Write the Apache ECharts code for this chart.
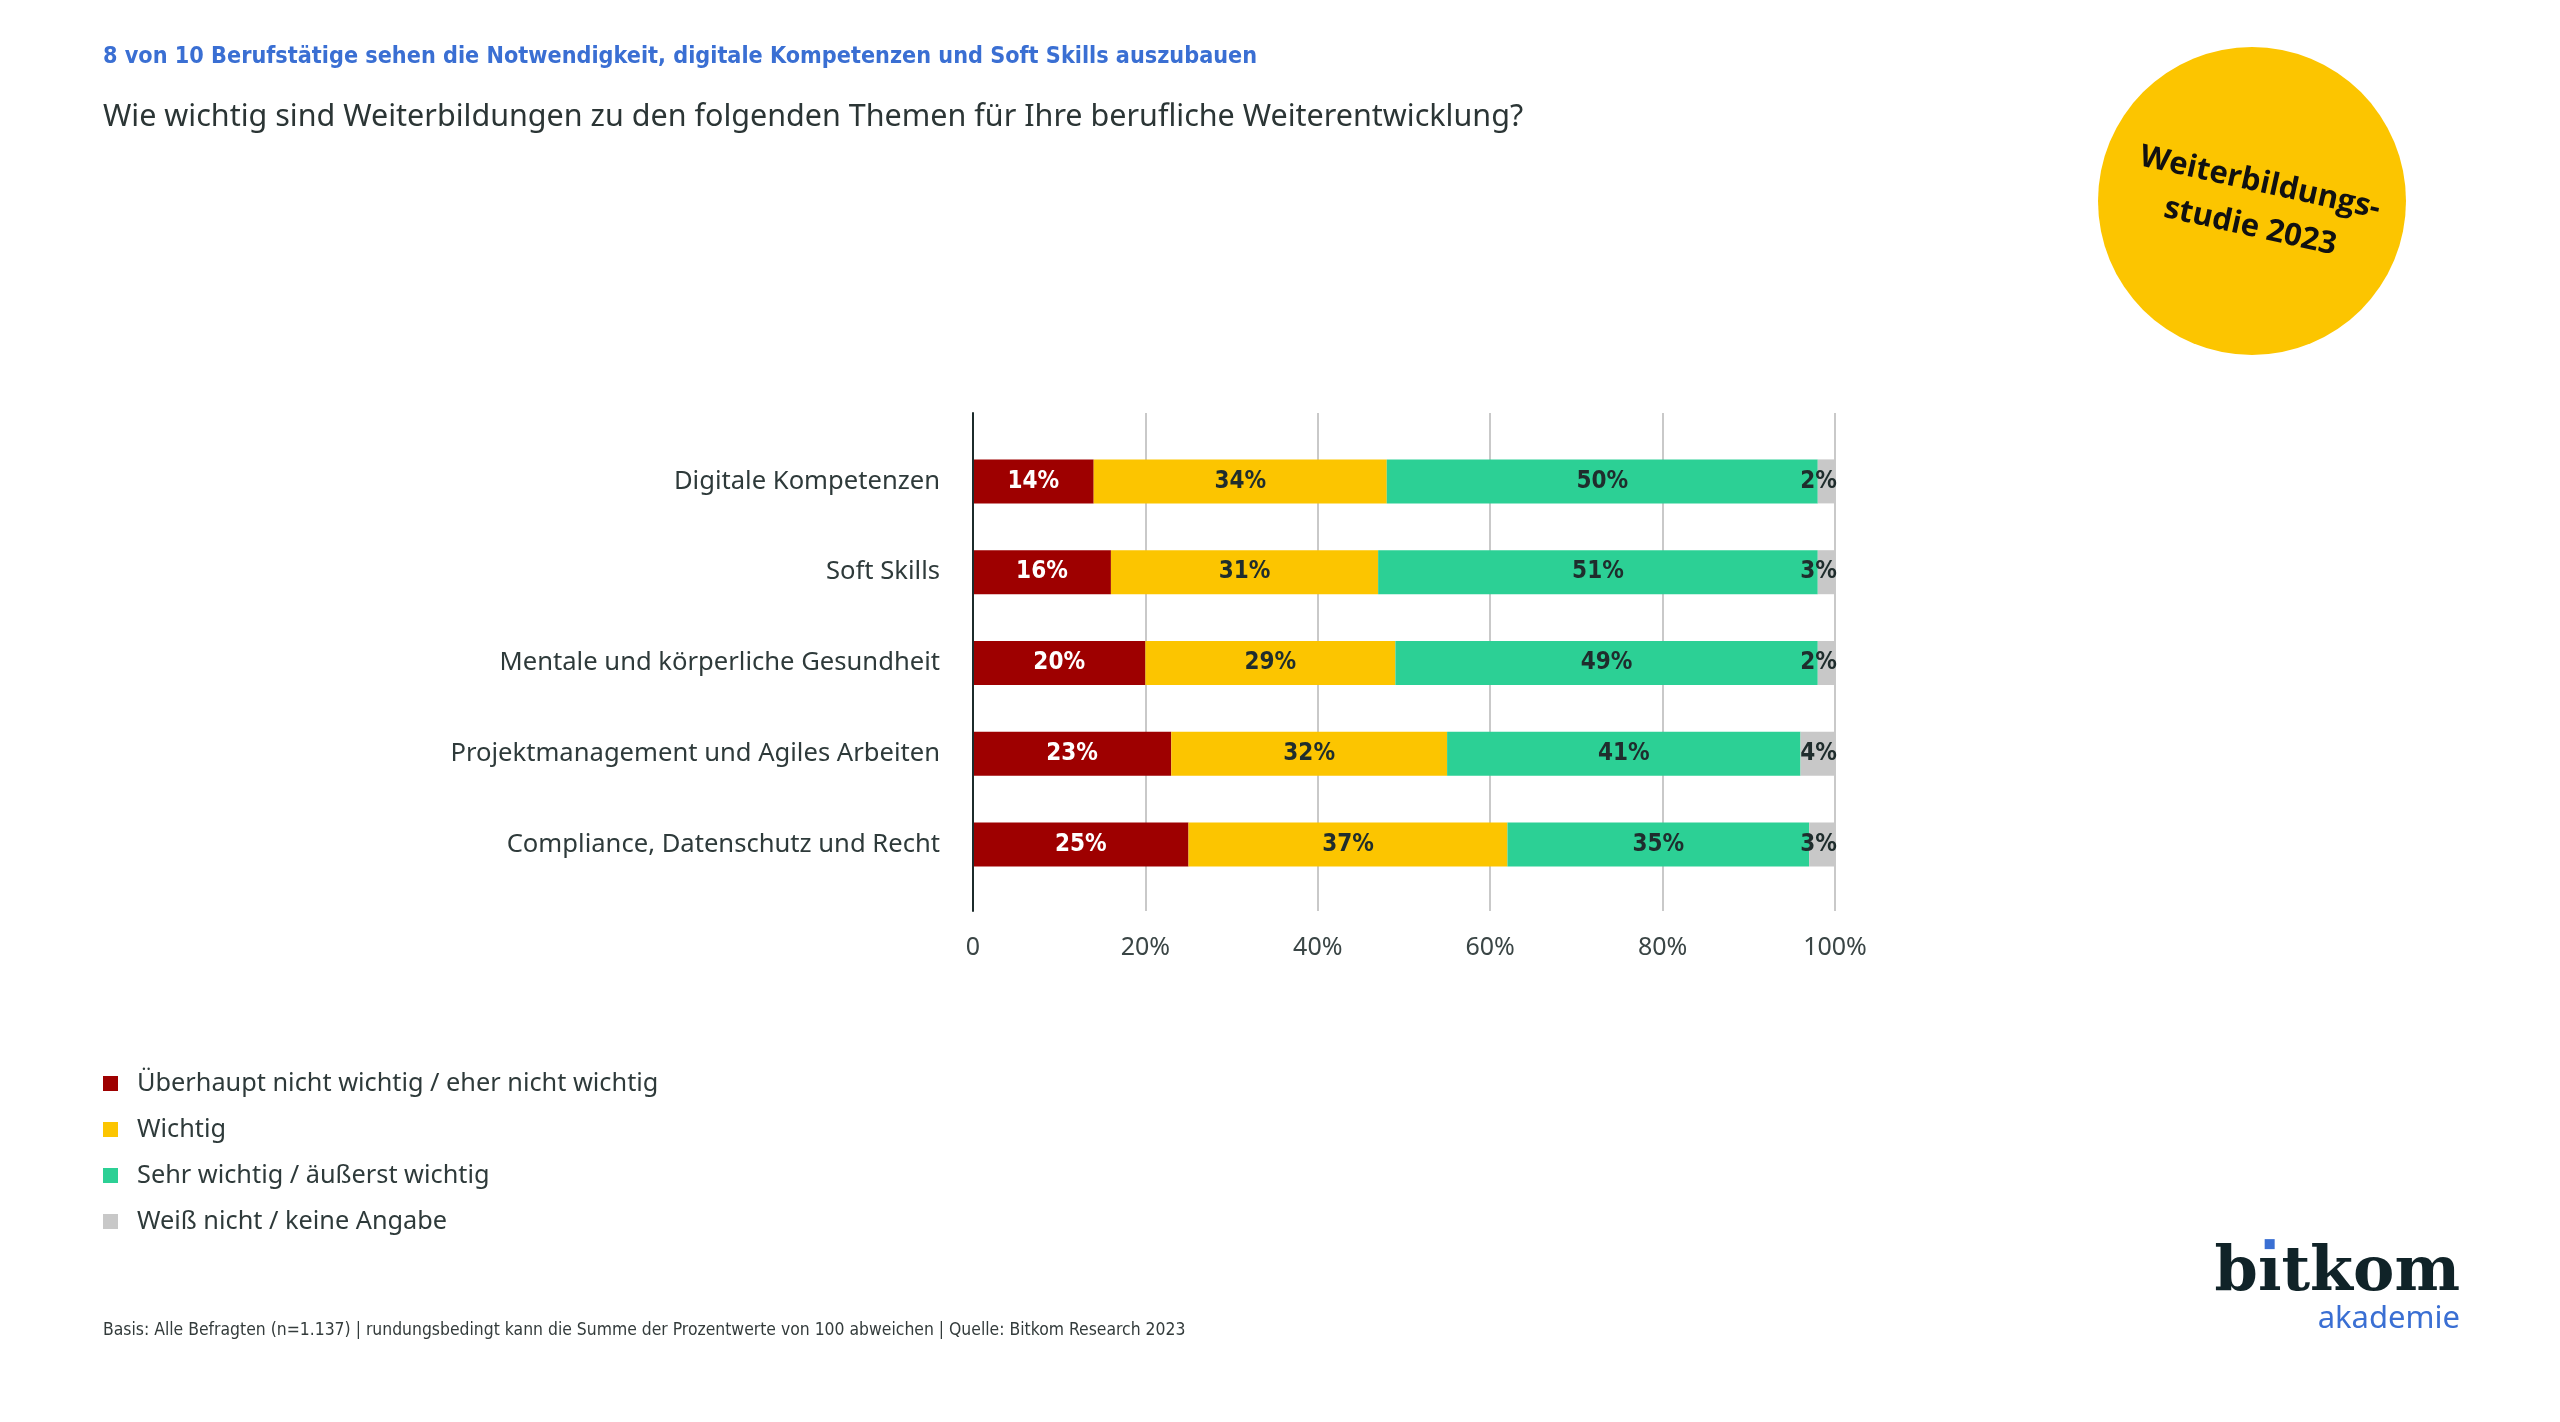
<!DOCTYPE html>
<html>
<head>
<meta charset="utf-8">
<script src="https://cdn.jsdelivr.net/npm/echarts@6.0.0/dist/echarts.min.js"></script>
<style>
html,body{margin:0;padding:0;background:#ffffff;}
#chart{width:2560px;height:1422px;}
</style>
</head>
<body>
<div id="chart"></div>
<script>
// ---- data ----
const categories = [
  'Digitale Kompetenzen',
  'Soft Skills',
  'Mentale und körperliche Gesundheit',
  'Projektmanagement und Agiles Arbeiten',
  'Compliance, Datenschutz und Recht'
];
const seriesNames = [
  'Überhaupt nicht wichtig / eher nicht wichtig',
  'Wichtig',
  'Sehr wichtig / äußerst wichtig',
  'Weiß nicht / keine Angabe'
];
const notImportant = [14, 16, 20, 23, 25];
const important = [34, 31, 29, 32, 37];
const veryImportant = [50, 51, 49, 41, 35];
const dontKnow = [2, 3, 2, 4, 3];
const xTicks = [0, 20, 40, 60, 80, 100];

const titleText = '8 von 10 Berufstätige sehen die Notwendigkeit, digitale Kompetenzen und Soft Skills auszubauen';
const subtitleText = 'Wie wichtig sind Weiterbildungen zu den folgenden Themen für Ihre berufliche Weiterentwicklung?';
const footerText = 'Basis: Alle Befragten (n=1.137) | rundungsbedingt kann die Summe der Prozentwerte von 100 abweichen | Quelle: Bitkom Research 2023';

// ---- styles ----
const colors = ['#9e0000', '#fcc500', '#2cd095', '#c8c8c8'];
const labelColors = ['#ffffff', '#1f2d2d', '#1f2d2d', '#1f2d2d'];
const baseFont = "'Noto Sans', 'Open Sans', sans-serif";
const condFont = "'DejaVu Sans Condensed', 'Liberation Sans Narrow', sans-serif";
const textDark = '#2e3a3a';
const logoFont = "bold 62px 'DejaVu Serif', serif";

// measure logo glyphs so the blue dot of the "i" sits over the dotless i
const mctx = document.createElement('canvas').getContext('2d');
mctx.font = logoFont;
const wTail = mctx.measureText('tkom').width;
const wI = mctx.measureText('\u0131').width;
const logoRight = 2460, logoBase = 1290, dotSize = 10;
const dotX = logoRight - wTail - wI / 2 - dotSize / 2;
const dotY = logoBase - 62 * 0.74 - dotSize / 2;

const chart = echarts.init(document.getElementById('chart'), null, {renderer: 'canvas'});

const dataSets = [notImportant, important, veryImportant, dontKnow];
const series = dataSets.map((arr, i) => ({
  name: seriesNames[i],
  type: 'bar',
  stack: 'total',
  xAxisIndex: 1,
  yAxisIndex: 1,
  barWidth: 44,
  clip: true,
  data: arr,
  itemStyle: {color: colors[i]},
  label: {
    show: true,
    position: i === 3 ? 'insideRight' : 'inside',
    distance: 0,
    offset: i === 3 ? [2, 0] : [0, 0],
    formatter: '{c}%',
    color: labelColors[i],
    fontFamily: condFont,
    fontWeight: 'bold',
    fontSize: 24
  },
  emphasis: {disabled: true}
}));

const option = {
  backgroundColor: '#ffffff',
  animation: false,
  grid: [
    {left: 973, width: 862, top: 413, height: 498},
    {left: 973, width: 862, top: 436, height: 454}
  ],
  xAxis: [
    {
      gridIndex: 0, type: 'value', min: xTicks[0], max: xTicks[xTicks.length - 1], interval: 20,
      axisLine: {show: false}, axisTick: {show: false},
      splitLine: {show: true, lineStyle: {color: '#c9c9c9', width: 2}},
      axisLabel: {
        fontSize: 25, color: '#3a4545', margin: 24, fontFamily: baseFont,
        formatter: v => (v === 0 ? '0' : v + '%')
      }
    },
    {gridIndex: 1, type: 'value', min: 0, max: 100, show: false}
  ],
  yAxis: [
    {
      gridIndex: 0, type: 'value', min: 0, max: 1, z: 5,
      axisLine: {show: true, lineStyle: {color: '#1c2b2b', width: 2}},
      axisTick: {show: false}, axisLabel: {show: false}, splitLine: {show: false}
    },
    {
      gridIndex: 1, type: 'category', data: categories, inverse: true,
      axisLine: {show: false}, axisTick: {show: false}, splitLine: {show: false},
      axisLabel: {fontSize: 25.6, color: textDark, margin: 33, fontFamily: baseFont}
    }
  ],
  legend: {
    orient: 'vertical',
    left: 103,
    top: 1071,
    itemWidth: 15,
    itemHeight: 15,
    itemGap: 21,
    icon: 'rect',
    padding: 0,
    selectedMode: false,
    data: seriesNames,
    textStyle: {fontSize: 25.3, color: textDark, fontFamily: baseFont, padding: [0, 0, 0, 14]}
  },
  series: series,
  graphic: [
    {type: 'text', left: 103, top: 45, style: {text: titleText, fill: '#3a6fd3', font: "bold 23.2px 'DejaVu Sans Condensed', sans-serif"}},
    {type: 'text', left: 103, top: 102, style: {text: subtitleText, fill: '#2b3535', font: "30.5px 'Noto Sans', sans-serif"}},
    {type: 'circle', shape: {cx: 2252, cy: 201, r: 154}, style: {fill: '#fcc500'}},
    {type: 'text', x: 2255, y: 205, rotation: -12.5 * Math.PI / 180,
      style: {text: 'Weiterbildungs-\nstudie 2023', fill: '#111111', font: "bold 31px 'Open Sans', sans-serif",
        align: 'center', verticalAlign: 'middle', lineHeight: 45}},
    {type: 'text', left: 103, top: 1322, style: {text: footerText, fill: '#333b3b', font: "17.4px 'DejaVu Sans Condensed', sans-serif"}},
    {type: 'text', x: logoRight, y: 1305, style: {text: 'b\u0131tkom', fill: '#102328', font: logoFont, align: 'right', verticalAlign: 'bottom'}},
    {type: 'rect', shape: {x: dotX, y: dotY, width: dotSize, height: dotSize}, style: {fill: '#3a6fd3'}},
    {type: 'text', x: 2460, y: 1335, style: {text: 'akademie', fill: '#3a6fd3', font: "31px 'Noto Sans', sans-serif", align: 'right', verticalAlign: 'bottom'}}
  ]
};
chart.setOption(option);
</script>
</body>
</html>
